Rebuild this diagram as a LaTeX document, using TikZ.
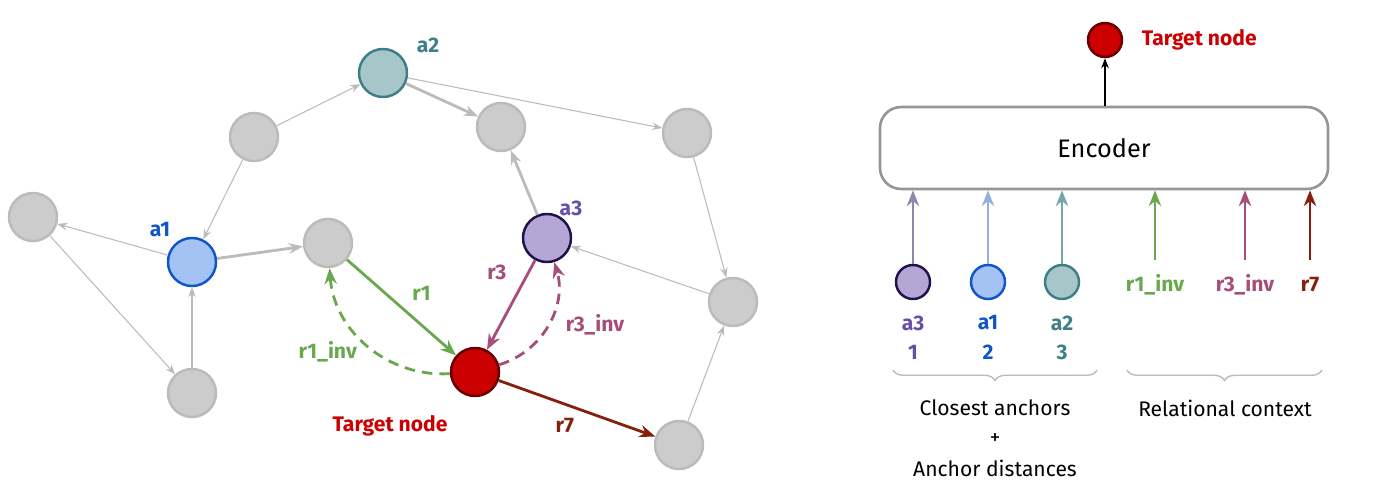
\documentclass[tikz,border=0pt]{standalone}
\usepackage{fontspec}
\setmainfont{Fira Sans}
\usetikzlibrary{arrows.meta, positioning, decorations.pathreplacing}
\definecolor{gfill}{HTML}{CCCCCC}
\definecolor{gline}{HTML}{BBBBBB}
\definecolor{tealf}{HTML}{A7C6C9}
\definecolor{teald}{HTML}{3E7F87}
\definecolor{bluef}{HTML}{A4C2F4}
\definecolor{blued}{HTML}{1155CC}
\definecolor{purf}{HTML}{B4A7D6}
\definecolor{purd}{HTML}{20124D}
\definecolor{purt}{HTML}{674EA7}
\definecolor{tgtf}{HTML}{CC0000}
\definecolor{tgtd}{HTML}{660000}
\definecolor{rgreen}{HTML}{6AA84F}
\definecolor{rmag}{HTML}{A64D79}
\definecolor{rdark}{HTML}{85200C}
\tikzset{>=Stealth,
  ent/.style={circle, minimum size=0.96cm, inner sep=0pt, line width=1.4pt, draw=gline, fill=gfill},
  sml/.style={circle, minimum size=0.68cm, inner sep=0pt, line width=1.4pt},
  thin edge/.style={->, draw=gline, line width=0.6pt},
  thick edge/.style={-{Stealth[length=8pt,width=6pt]}, draw=gline, line width=1.6pt},
  rel/.style={-{Stealth[length=9pt,width=7pt]}, line width=1.6pt},
  dsh/.style={dash pattern=on 6pt off 4pt},
  lbl/.style={font=\bfseries\large}
}
\begin{document}
\begin{tikzpicture}
  \useasboundingbox (0,0) rectangle (28,9.9);
  % Graph
  \node[ent, draw=teald, fill=tealf] (a2) at (7.66,8.44) {};
  \node[ent] (g1) at (5.08,7.16) {};
  \node[ent] (g2) at (10.02,7.36) {};
  \node[ent] (g3) at (13.74,7.24) {};
  \node[ent] (gL) at (0.66,5.56) {};
  \node[ent, draw=blued, fill=bluef] (a1) at (3.84,4.66) {};
  \node[ent] (gC) at (6.56,5.04) {};
  \node[ent, draw=purd, fill=purf] (a3) at (10.94,5.14) {};
  \node[ent] (gR) at (14.66,3.86) {};
  \node[ent] (gB) at (3.84,2.04) {};
  \node[ent, draw=tgtd, fill=tgtf] (tgt) at (9.5,2.46) {};
  \node[ent] (gBR) at (13.58,1.0) {};
  % Labels
  \node[lbl, text=teald] at (8.56,9.0) {a2};
  \node[lbl, text=blued] at (3.2,5.3) {a1};
  \node[lbl, text=purt] at (11.42,5.74) {a3};
  \node[font=\bfseries\large, text=tgtf] at (7.8,1.38) {Target node};
  % Gray edges
  \draw[thin edge] (g1) -- (a2);
  \draw[thin edge] (a2) -- (g3);
  \draw[thin edge] (g1) -- (a1);
  \draw[thin edge] (a1) -- (gL);
  \draw[thin edge] (gL) -- (gB);
  \draw[thin edge] (gB) -- (a1);
  \draw[thin edge] (g3) -- (gR);
  \draw[thin edge] (gBR) -- (gR);
  \draw[thin edge] (gR) -- (a3);
  \draw[thick edge] (a2) -- (g2);
  \draw[thick edge] (a1) -- (gC);
  \draw[thick edge] (a3) -- (g2);
  % Relations
  \draw[rel, rgreen] (gC) -- node[lbl, above right=0pt and 2pt] {r1} (tgt);
  \draw[rel, rgreen, dsh] (tgt) to[bend left=45] node[lbl, left=6pt, pos=0.45] {r1\_inv} (gC);
  \draw[rel, rmag] (a3) -- node[lbl, above left=0pt and 4pt, pos=0.3] {r3} (tgt);
  \draw[rel, rmag, dsh] (tgt) to[bend right=45] node[lbl, right=6pt, pos=0.5] {r3\_inv} (a3);
  \draw[rel, rdark] (tgt) -- node[lbl, below left=0pt and 2pt, pos=0.55] {r7} (gBR);
  % Encoder side
  \node[draw=gline!80!black, line width=1.5pt, rounded corners=12pt, minimum width=8.96cm, minimum height=1.64cm, font=\Large] (enc) at (22.08,6.94) {Encoder};
  \node[sml, draw=tgtd, fill=tgtf] (tgt2) at (22.1,9.1) {};
  \node[font=\bfseries\large, text=tgtf, right=0.25cm of tgt2] {Target node};
  \draw[->, line width=0.6pt] (enc.north -| tgt2) -- (tgt2);
  \node[sml, draw=purd, fill=purf] (s3) at (18.26,4.26) {};
  \node[sml, draw=blued, fill=bluef] (s1) at (19.76,4.26) {};
  \node[sml, draw=teald, fill=tealf] (s2) at (21.24,4.26) {};
  \draw[rel, purf!80!black] (s3) -- (s3 |- enc.south);
  \draw[rel, bluef!90!black] (s1) -- (s1 |- enc.south);
  \draw[rel, teald!70] (s2) -- (s2 |- enc.south);
  \node[lbl, text=purt] at (18.26,3.44) {a3};
  \node[lbl, text=blued] at (19.76,3.44) {a1};
  \node[lbl, text=teald] at (21.24,3.44) {a2};
  \node[lbl, text=purt] at (18.26,2.86) {1};
  \node[lbl, text=blued] at (19.76,2.86) {2};
  \node[lbl, text=teald] at (21.24,2.86) {3};
  \node[lbl, text=rgreen] (q1) at (23.1,4.2) {r1\_inv};
  \node[lbl, text=rmag] (q3) at (24.9,4.2) {r3\_inv};
  \node[lbl, text=rdark] (q7) at (26.2,4.2) {r7};
  \coordinate (c1) at (23.1,4.7);
  \coordinate (c3) at (24.9,4.7);
  \coordinate (c7) at (26.2,4.7);
  \draw[rel, rgreen] (c1) -- (c1 |- enc.south);
  \draw[rel, rmag] (c3) -- (c3 |- enc.south);
  \draw[rel, rdark] (c7) -- (c7 |- enc.south);
  % Braces
  \draw[gline, line width=0.8pt, decorate, decoration={brace, mirror, amplitude=6pt}] (17.86,2.5) -- (21.94,2.5);
  \draw[gline, line width=0.8pt, decorate, decoration={brace, mirror, amplitude=6pt}] (22.54,2.5) -- (26.44,2.5);
  \node[font=\large] at (19.9,1.74) {Closest anchors};
  \node[font=\large] at (19.9,1.12) {+};
  \node[font=\large] at (19.9,0.54) {Anchor distances};
  \node[font=\large] at (24.5,1.74) {Relational context};
\end{tikzpicture}
\end{document}
